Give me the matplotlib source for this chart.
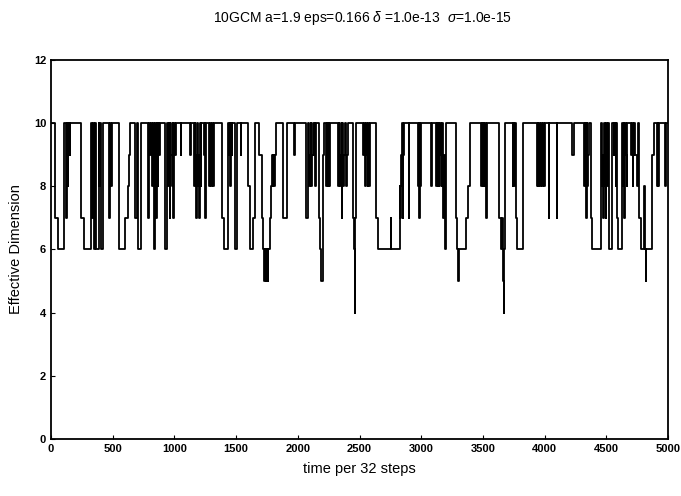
import matplotlib
matplotlib.use("Agg")
import matplotlib.pyplot as plt
from matplotlib import font_manager

# change points (time, effective dimension) — step series
change_t = [0, 35, 57, 105, 122, 126, 135, 140, 150, 155,
            246, 270, 327, 333, 338, 345, 355, 362, 368, 385, 390, 395, 402, 418,
            472, 478, 488, 492,
            548, 600, 624, 630, 636,
            683, 695, 705, 728, 786, 792, 805, 810, 818, 823, 838, 845, 853, 858, 866, 870, 876, 880,
            921, 938, 948, 953, 960, 966, 975, 980, 985, 992, 998, 1005, 1010,
            1050, 1055, 1126, 1131,
            1158, 1163, 1167, 1172, 1178, 1185, 1190, 1196, 1200, 1206, 1212, 1218,
            1240, 1245, 1250, 1258,
            1283, 1288, 1293, 1300, 1306, 1312, 1320,
            1388, 1400, 1437, 1442, 1447, 1452, 1458, 1465, 1470,
            1491, 1504, 1537, 1542,
            1596, 1612, 1640, 1653,
            1688, 1707, 1720, 1728, 1732, 1740, 1745, 1755, 1760, 1775, 1785, 1790, 1795, 1800, 1810, 1815, 1825,
            1882, 1912, 1969, 1975,
            2069, 2085, 2090, 2095, 2105, 2110, 2115, 2125, 2128, 2135, 2140, 2148,
            2170, 2180, 2185, 2200, 2205, 2215,
            2231, 2236, 2240, 2245, 2250, 2255, 2258,
            2326, 2332, 2336, 2342, 2348, 2355, 2360, 2368, 2375, 2380, 2390, 2398, 2405,
            2447, 2455, 2460, 2465, 2470,
            2530, 2535, 2545, 2550, 2560, 2565, 2570, 2580, 2585,
            2636, 2650, 2752, 2756, 2825, 2830, 2835, 2840, 2845, 2850, 2855, 2862,
            2898, 2904,
            2971, 2978, 2983, 2988, 2992, 2998,
            3080, 3085,
            3120, 3125, 3130, 3135, 3142, 3147, 3150,
            3160, 3165, 3170, 3175, 3185, 3192, 3198,
            3282, 3292, 3300, 3306, 3363, 3375, 3395,
            3485, 3490, 3495, 3500, 3506, 3512, 3518, 3525, 3531,
            3628, 3645, 3652, 3660, 3668, 3674, 3680,
            3740, 3745, 3750, 3755, 3760, 3765, 3775, 3822,
            3940, 3945, 3950, 3955, 3962, 3968, 3975, 3982, 3990, 3998, 4003,
            4033, 4038, 4098, 4103,
            4225, 4235,
            4318, 4323, 4328, 4333, 4340, 4345, 4352, 4358,
            4375, 4387, 4455, 4460, 4465, 4470, 4475, 4480, 4485, 4490, 4495, 4500, 4505, 4512,
            4520, 4548, 4560, 4565, 4575, 4580, 4590, 4598, 4628,
            4635, 4640, 4645, 4652, 4660, 4665, 4670,
            4700, 4705, 4712, 4718, 4725, 4735, 4745, 4755,
            4765, 4780, 4806, 4810, 4818, 4822, 4873, 4890,
            4910, 4915, 4922, 4928, 4978, 4985, 5000]
change_v = [10, 7, 6, 10, 7, 10, 8, 10, 9, 10,
            7, 6, 10, 7, 10, 6, 10, 7, 6, 10, 8, 10, 6, 10,
            7, 10, 8, 10,
            6, 7, 8, 9, 10,
            7, 10, 6, 10, 7, 10, 9, 10, 8, 10, 6, 10, 7, 10, 8, 10, 9, 10,
            6, 10, 8, 10, 7, 10, 9, 8, 10, 7, 10, 9, 10,
            9, 10, 9, 10,
            8, 10, 9, 8, 7, 10, 8, 9, 7, 10, 8, 10,
            9, 10, 7, 10,
            8, 10, 9, 8, 10, 8, 10,
            7, 6, 10, 9, 10, 8, 10, 9, 10,
            6, 10, 9, 10,
            8, 6, 7, 10,
            9, 7, 6, 5, 6, 5, 6, 5, 6, 7, 8, 9, 8, 9, 8, 9, 10,
            7, 10, 9, 10,
            7, 10, 8, 9, 10, 8, 9, 10, 9, 10, 8, 10,
            7, 6, 5, 6, 9, 10,
            8, 10, 9, 8, 10, 8, 10,
            8, 10, 9, 8, 10, 7, 10, 8, 9, 10, 8, 9, 10,
            7, 6, 4, 7, 10,
            9, 10, 8, 10, 9, 8, 10, 8, 10,
            7, 6, 7, 6, 8, 7, 9, 8, 10, 7, 9, 10,
            7, 10,
            8, 10, 7, 10, 8, 10,
            8, 10,
            8, 10, 9, 8, 10, 8, 10,
            9, 8, 10, 7, 9, 6, 10,
            7, 6, 5, 6, 7, 8, 10,
            8, 10, 9, 8, 10, 8, 10, 7, 10,
            7, 6, 7, 5, 4, 6, 10,
            8, 10, 9, 8, 10, 7, 6, 10,
            8, 10, 8, 10, 8, 10, 9, 8, 10, 8, 10,
            7, 10, 7, 10,
            9, 10,
            8, 10, 9, 7, 10, 8, 9, 10,
            7, 6, 7, 10, 8, 9, 7, 10, 8, 9, 7, 10, 8, 10,
            6, 10, 9, 10, 8, 10, 7, 6, 10,
            8, 10, 7, 10, 9, 8, 10,
            9, 10, 8, 9, 10, 9, 8, 10,
            7, 6, 8, 6, 5, 6, 9, 10,
            8, 10, 8, 10, 8, 10, 10]

x_ticks = [0, 500, 1000, 1500, 2000, 2500, 3000, 3500, 4000, 4500, 5000]
y_ticks = [0, 2, 4, 6, 8, 10, 12]
title_text = "10GCM a=1.9 eps=0.166 $\\delta$ =1.0e-13  $\\sigma$=1.0e-15"

fams = [f.name for f in font_manager.fontManager.ttflist]
fam = "Liberation Sans Narrow" if "Liberation Sans Narrow" in fams else "Liberation Sans"
plt.rcParams['font.family'] = [fam, 'DejaVu Sans']
plt.rcParams['mathtext.fontset'] = 'custom'
plt.rcParams['mathtext.it'] = fam + ':italic'
plt.rcParams['mathtext.rm'] = fam

fig = plt.figure(figsize=(6.81, 4.96), dpi=100)
ax = fig.add_axes([0.075, 0.115, 0.906, 0.764])
ax.plot(change_t, change_v, drawstyle='steps-post', color='black', lw=1.3)
ax.set_xlim(0, 5000)
ax.set_ylim(0, 12)
ax.set_xticks(x_ticks)
ax.set_yticks(y_ticks)
ax.tick_params(direction='in', length=3, width=0.8, labelsize=8)
for lab in ax.get_xticklabels() + ax.get_yticklabels():
    lab.set_fontweight('bold')
for s in ax.spines.values():
    s.set_linewidth(1.3)
ax.set_xlabel("time per 32 steps", fontsize=10.5, labelpad=6)
ax.set_ylabel("Effective Dimension", fontsize=10.5, labelpad=8)
fig.text(0.532, 0.963, title_text, ha='center', va='center', fontsize=10)
fig.savefig("out.png", dpi=100)
